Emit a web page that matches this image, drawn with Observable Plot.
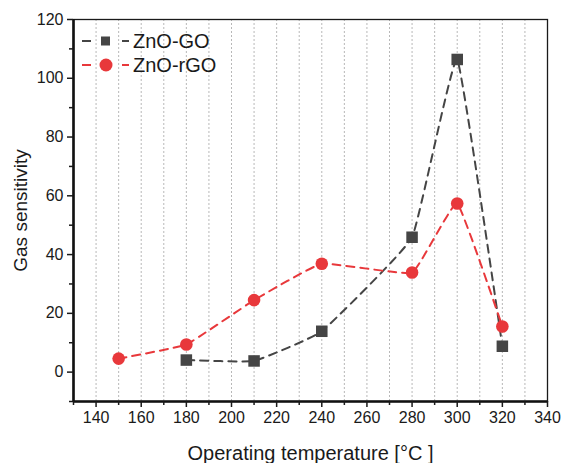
<!DOCTYPE html>
<html>
<head>
<meta charset="utf-8">
<script src="https://cdn.jsdelivr.net/npm/d3@7"></script>
<script src="https://cdn.jsdelivr.net/npm/@observablehq/plot@0.6"></script>
<style>
  html, body { margin: 0; padding: 0; background: #fff; }
  #chart { position: relative; width: 562px; height: 463px; }
</style>
</head>
<body>
<div id="chart"></div>
<script>
// ---- data ----
const tempsGO = [180, 210, 240, 280, 300, 320];
const sensGO = [4.1, 3.8, 13.9, 45.9, 106.4, 8.8];
const tempsRGO = [150, 180, 210, 240, 280, 300, 320];
const sensRGO = [4.6, 9.4, 24.5, 36.9, 33.9, 57.4, 15.5];
const seriesNames = ["ZnO-GO", "ZnO-rGO"];
const seriesColors = ["#454545", "#e8383b"];
const xTicks = [140, 160, 180, 200, 220, 240, 260, 280, 300, 320, 340];
const xMinorTicks = [130, 150, 170, 190, 210, 230, 250, 270, 290, 310, 330];
const xGrid = [140, 150, 160, 170, 180, 190, 200, 210, 220, 230, 240, 250, 260, 270, 280, 290, 300, 310, 320, 330];
const yTicks = [0, 20, 40, 60, 80, 100, 120];
const yMinorTicks = [-10, 10, 30, 50, 70, 90, 110];
const xDomain = [130, 340];
const yDomain = [-10, 120];
const xLabel = "Operating temperature [°C ]";
const yLabel = "Gas sensitivity";

const dataGO = tempsGO.map((t, i) => ({t, s: sensGO[i]}));
const dataRGO = tempsRGO.map((t, i) => ({t, s: sensRGO[i]}));

const font = "'Liberation Sans', Arial, sans-serif";
const curve = d3.curveCardinal.tension(0.7);

const plot = Plot.plot({
  width: 562,
  height: 463,
  marginLeft: 73,
  marginRight: 15,
  marginTop: 19,
  marginBottom: 62,
  style: {fontFamily: font, color: "#1a1a1a", background: "#fff"},
  x: {domain: xDomain},
  y: {domain: yDomain},
  marks: [
    Plot.gridX(xGrid, {stroke: "#b8b8b8", strokeOpacity: 1, strokeDasharray: "2,2", strokeWidth: 1}),
    Plot.frame({stroke: "#1a1a1a", strokeWidth: 1.3}),
    Plot.ruleX([xDomain[0]], {stroke: "#111", strokeWidth: 2.6}),
    Plot.ruleY([yDomain[0]], {stroke: "#111", strokeWidth: 2.6}),
    Plot.axisX(xTicks, {tickSize: 6, tickPadding: 4, fontSize: 16, label: null, strokeWidth: 1.5}),
    Plot.axisX(xMinorTicks, {tickSize: 4, text: null, label: null, strokeWidth: 1.5}),
    Plot.axisY(yTicks, {tickSize: 6, tickPadding: 4, fontSize: 16, label: null, strokeWidth: 1.5}),
    Plot.axisY(yMinorTicks, {tickSize: 4, text: null, label: null, strokeWidth: 1.5}),
    Plot.line(dataGO, {x: "t", y: "s", stroke: seriesColors[0], strokeWidth: 2, strokeDasharray: "8,6", curve}),
    Plot.line(dataRGO, {x: "t", y: "s", stroke: seriesColors[1], strokeWidth: 2, strokeDasharray: "8,6", curve}),
    Plot.dot(dataGO, {x: "t", y: "s", symbol: "square", r: 6.5, fill: seriesColors[0], stroke: "none"}),
    Plot.dot(dataRGO, {x: "t", y: "s", symbol: "circle", r: 6.3, fill: seriesColors[1], stroke: "none"}),
    Plot.text([xLabel], {frameAnchor: "bottom", dy: 52, lineAnchor: "middle", textAnchor: "middle", fontSize: 20, fill: "#1a1a1a"}),
    Plot.text([yLabel], {frameAnchor: "left", dx: -53, rotate: -90, lineAnchor: "middle", textAnchor: "middle", fontSize: 19, fill: "#1a1a1a"})
  ]
});

document.getElementById("chart").appendChild(plot);

// ---- legend (overlay, inside plot top-left) ----
const svg = d3.select(plot);
const legend = svg.append("g").attr("font-family", font).attr("text-anchor", "start");
const symbols = ["square", "circle"];
seriesNames.forEach((name, i) => {
  const y = 41 + i * 24;
  const g = legend.append("g").attr("transform", `translate(82,${y})`);
  g.append("line").attr("x1", 0).attr("x2", 9).attr("y1", 0).attr("y2", 0)
    .attr("stroke", seriesColors[i]).attr("stroke-width", 2);
  g.append("line").attr("x1", 40).attr("x2", 47).attr("y1", 0).attr("y2", 0)
    .attr("stroke", seriesColors[i]).attr("stroke-width", 2);
  if (symbols[i] === "square") {
    g.append("rect").attr("x", 19).attr("y", -4.5).attr("width", 9).attr("height", 9).attr("fill", seriesColors[i]);
  } else {
    g.append("circle").attr("cx", 24).attr("cy", 0).attr("r", 6.5).attr("fill", seriesColors[i]);
  }
  g.append("text").attr("x", 51).attr("y", 0).attr("dy", "0.35em").attr("text-anchor", "start")
    .attr("font-size", 20).attr("fill", "#1a1a1a").text(name);
});
</script>
</body>
</html>
